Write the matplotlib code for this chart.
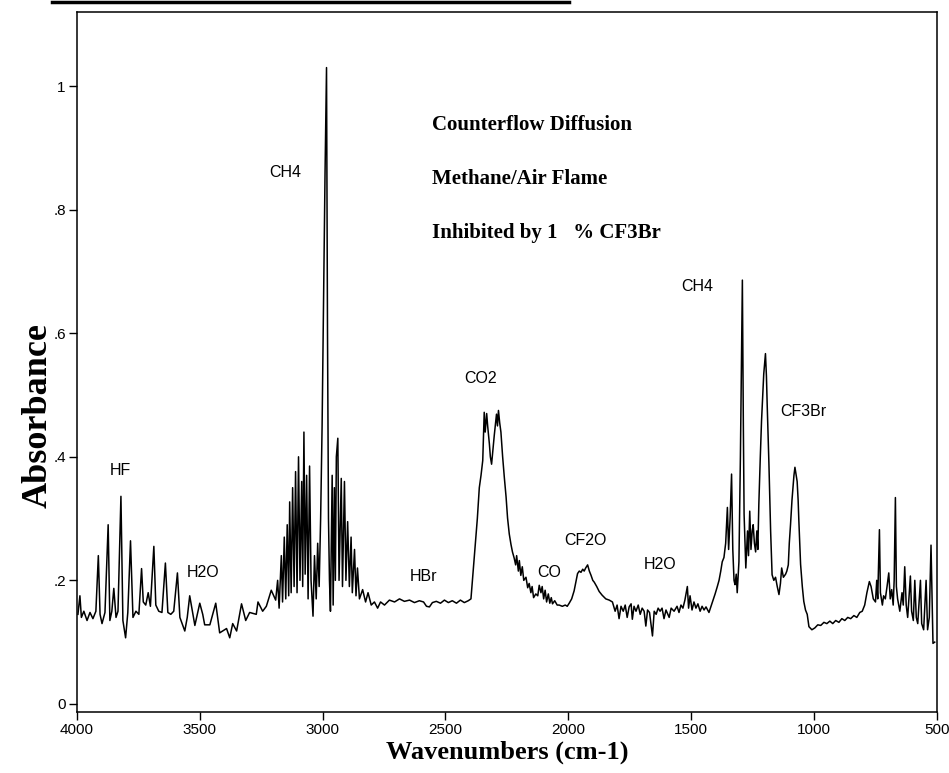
import matplotlib
matplotlib.use('Agg')
import matplotlib.pyplot as plt
from matplotlib.lines import Line2D

# spectrum (wavenumber in cm-1, absorbance)
wavenumber = [
    3996, 3988, 3982, 3972, 3959, 3947, 3935, 3923, 3913, 3906, 3898, 3886,
    3873, 3866, 3858, 3850, 3841, 3833, 3821, 3813, 3802, 3793, 3782, 3772,
    3760, 3748, 3737, 3730, 3720, 3710, 3701, 3687, 3679, 3667, 3654, 3640,
    3630, 3618, 3606, 3591, 3581, 3561, 3551, 3541, 3520, 3500, 3488, 3480,
    3459, 3435, 3419, 3391, 3378, 3366, 3350, 3330, 3313, 3297, 3270, 3263,
    3244, 3229, 3209, 3191,
    # CH4 stretch band
    3183, 3177, 3168, 3163, 3156, 3150, 3144, 3138, 3134, 3128, 3122, 3116,
    3110, 3104, 3098, 3092, 3085, 3081, 3076, 3071, 3065, 3059, 3053, 3047,
    3039, 3033, 3026, 3020, 3014, 3008, 3002, 2996, 2990, 2984, 2980, 2976,
    2972, 2968, 2961, 2957, 2952, 2948, 2944, 2938, 2933, 2924, 2919, 2911,
    2905, 2898, 2891, 2884, 2879, 2870, 2864, 2858, 2850, 2837, 2825, 2815,
    2802, 2789, 2776, 2764, 2748,
    # flat part, HBr
    2728, 2707, 2687, 2667, 2646, 2626, 2606, 2589, 2577, 2565, 2553, 2537,
    2520, 2504, 2488, 2472, 2455, 2439, 2423, 2407, 2396,
    # CO2, CO, CF2O
    2386, 2375, 2370, 2362, 2355, 2348, 2342, 2338, 2332, 2328, 2321, 2317,
    2312, 2307, 2301, 2297, 2292, 2288, 2284, 2279, 2274, 2267, 2260, 2253,
    2247, 2240, 2233, 2227, 2220, 2214, 2210, 2203, 2199, 2193, 2187, 2181,
    2172, 2165, 2159, 2152, 2147, 2141, 2132, 2124, 2118, 2111, 2106, 2100,
    2094, 2088, 2081, 2075, 2069, 2064, 2055, 2045, 2037, 2024, 2012, 2004,
    1996, 1986, 1976, 1962, 1955, 1948, 1941, 1935, 1929, 1921, 1914, 1907,
    1900, 1894, 1884, 1874, 1862, 1847, 1833, 1820,
    # H2O bending region
    1809, 1801, 1793, 1785, 1776, 1768, 1760, 1752, 1744, 1739, 1732, 1724,
    1715, 1707, 1699, 1691, 1684, 1677, 1669, 1657, 1650, 1642, 1634, 1626,
    1618, 1610, 1602, 1589, 1581, 1569, 1557, 1549, 1541, 1533, 1525, 1515,
    1510, 1504, 1496, 1488, 1480, 1472, 1463, 1455, 1447, 1439, 1427, 1413,
    # CH4 bend, CF3Br
    1402, 1393, 1386, 1379, 1373, 1366, 1359, 1352, 1347, 1341, 1335, 1330,
    1325, 1321, 1316, 1312, 1305, 1299, 1291, 1287, 1284, 1277, 1270, 1266,
    1261, 1256, 1251, 1247, 1242, 1237, 1232, 1228, 1224, 1218, 1213, 1208,
    1204, 1197, 1193, 1190, 1183, 1176, 1170, 1163, 1156, 1149, 1142, 1136,
    1131, 1124, 1115, 1110, 1104, 1100, 1095, 1089, 1085, 1081, 1077, 1072,
    1068, 1064, 1061, 1054, 1047, 1041, 1034, 1027, 1020, 1008, 996, 984,
    972, 959, 947, 935, 923, 911, 898, 886, 874, 862, 850, 837,
    825, 813, 803, 793, 784, 774, 767, 758, 749, 744, 740, 733,
    729, 721, 716, 709, 702, 695, 689, 683, 677, 673, 668, 664,
    659, 650, 641, 636, 630, 624, 618, 607, 602, 595, 589, 583,
    577, 566, 561, 553, 543, 537, 530, 523, 515, 508,
]

absorbance = [
    .145, .175, .140, .150, .135, .148, .138, .150, .240, .145, .130, .148,
    .290, .135, .150, .187, .140, .150, .336, .135, .107, .148, .264, .140,
    .150, .145, .219, .165, .160, .180, .158, .255, .160, .150, .148, .228,
    .148, .145, .150, .212, .140, .118, .140, .175, .127, .163, .145, .128,
    .128, .163, .115, .122, .107, .130, .118, .162, .135, .148, .145, .165,
    .150, .158, .184, .168,
    .200, .155, .240, .165, .270, .170, .290, .175, .327, .180, .350, .190,
    .376, .180, .400, .200, .360, .190, .440, .210, .370, .170, .385, .200,
    .142, .240, .170, .260, .190, .300, .450, .660, .860, 1.030, .600, .300,
    .200, .150, .370, .160, .350, .200, .400, .430, .200, .365, .190, .360,
    .200, .295, .190, .270, .180, .250, .175, .220, .170, .185, .165, .180,
    .160, .165, .155, .165, .160,
    .168, .165, .170, .166, .168, .164, .167, .165, .158, .157, .164, .166,
    .163, .168, .164, .167, .163, .168, .164, .167, .170,
    .220, .275, .300, .350, .370, .394, .472, .440, .470, .450, .421, .400,
    .388, .410, .435, .450, .469, .450, .475, .455, .440, .400, .366, .335,
    .301, .275, .258, .246, .236, .225, .240, .215, .232, .208, .222, .200,
    .205, .188, .195, .180, .190, .172, .178, .175, .192, .180, .190, .170,
    .184, .165, .178, .163, .172, .162, .167, .160, .160, .158, .160, .158,
    .163, .170, .183, .211, .215, .213, .218, .215, .220, .225, .215, .208,
    .200, .197, .190, .182, .176, .170, .168, .165,
    .150, .160, .138, .158, .150, .160, .140, .157, .162, .137, .158, .150,
    .160, .145, .155, .150, .126, .152, .148, .110, .150, .145, .155, .150,
    .155, .138, .152, .140, .155, .150, .158, .148, .160, .155, .168, .190,
    .155, .175, .152, .165, .155, .162, .150, .158, .152, .157, .148, .165,
    .178, .190, .200, .215, .230, .237, .260, .318, .250, .300, .372, .250,
    .200, .193, .210, .180, .230, .400, .686, .450, .307, .220, .280, .240,
    .312, .250, .280, .290, .260, .246, .280, .250, .323, .400, .458, .500,
    .534, .567, .530, .485, .390, .280, .209, .200, .205, .190, .177, .195,
    .220, .205, .210, .215, .225, .260, .290, .330, .350, .370, .383, .370,
    .360, .330, .296, .226, .190, .166, .152, .145, .125, .120, .123, .128,
    .127, .132, .130, .134, .130, .135, .132, .138, .135, .140, .138, .143,
    .140, .148, .150, .160, .180, .198, .190, .170, .165, .200, .170, .282,
    .180, .160, .175, .170, .190, .212, .170, .185, .160, .200, .334, .190,
    .170, .150, .180, .160, .222, .160, .140, .207, .150, .135, .200, .140,
    .130, .200, .130, .120, .200, .120, .140, .257, .098, .100,
]

x_ticks = [4000, 3500, 3000, 2500, 2000, 1500, 1000, 500]
y_ticks = [0, .2, .4, .6, .8, 1]
y_tick_labels = ['0', '.2', '.4', '.6', '.8', '1']

band_names = ['HF', 'H2O', 'CH4', 'HBr', 'CO2', 'CO', 'CF2O', 'H2O', 'CH4', 'CF3Br']
header = ['Counterflow Diffusion', 'Methane/Air Flame', 'Inhibited by 1   % CF3Br']

serif = ['Liberation Serif', 'DejaVu Serif']
sans = ['Liberation Sans', 'DejaVu Sans']

fig = plt.figure(figsize=(9.49, 7.73), dpi=100)
ax = fig.add_axes([0.0811, 0.0790, 0.9059, 0.9055])

ax.plot(wavenumber, absorbance, color='black', lw=1.1)

ax.set_xlim(4000, 500)
ax.set_ylim(-0.013, 1.12)
ax.set_xticks(x_ticks)
ax.set_xticklabels([str(t) for t in x_ticks], family=sans, fontsize=11)
ax.set_yticks(y_ticks)
ax.set_yticklabels(y_tick_labels, family=sans, fontsize=11)
ax.tick_params(direction='out', length=6, width=1, pad=2)
for s in ax.spines.values():
    s.set_linewidth(1.1)

# band labels (positions in data coordinates)
spots = [(3825, .377), (3488, .213), (3154, .86), (2589, .207), (2358, .526),
         (2079, .212), (1931, .265), (1626, .226), (1476, .675), (1041, .474)]
for name, (xx, yy) in zip(band_names, spots):
    ax.text(xx, yy, name, family=sans, fontsize=11.5, ha='center', va='center')

for i, line in enumerate(header):
    ax.text(2553, .937 - i * .087, line, family=serif, fontweight='bold',
            fontsize=15, ha='left', va='center')

fig.text(0.040, 0.463, 'Absorbance', family=serif, fontweight='bold',
         fontsize=26, rotation=90, ha='center', va='center')
fig.text(0.534, 0.027, 'Wavenumbers (cm-1)', family=serif, fontweight='bold',
         fontsize=19, ha='center', va='center')

# rule left at the top of the scanned page
fig.add_artist(Line2D([0.055, 0.60], [0.997, 0.997], transform=fig.transFigure,
                      color='black', lw=2.5))

fig.savefig('out.png', dpi=100)
